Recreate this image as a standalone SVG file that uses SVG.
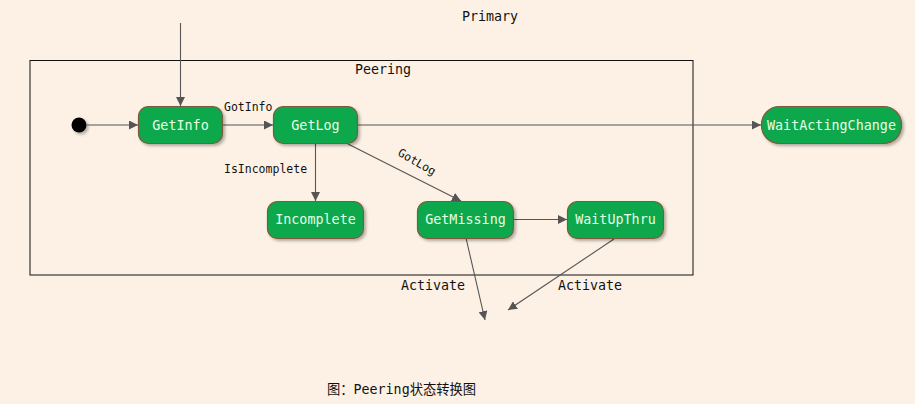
<svg xmlns="http://www.w3.org/2000/svg" width="915" height="404" viewBox="0 0 915 404">
<defs>
<style>
.node rect{fill:#0fa84c;stroke:#7b5a3c;stroke-width:1.2}
.node text{fill:#e6ffe6;font-family:"DejaVu Sans Mono","Liberation Mono",monospace;font-size:13.4px;text-anchor:middle}
.lbl{fill:#111;font-family:"DejaVu Sans Mono","Liberation Mono",monospace;font-size:13.3px}
.sm{fill:#111;font-family:"DejaVu Sans Mono","Liberation Mono",monospace;font-size:11.5px}
.edge{stroke:#555;stroke-width:1.1;fill:none;marker-end:url(#arr)}
</style>
<marker id="arr" viewBox="0 0 10 10" refX="10" refY="5" markerWidth="9" markerHeight="9" markerUnits="userSpaceOnUse" orient="auto">
<path d="M0,0 L10,5 L0,10 z" fill="#555"/>
</marker>
<filter id="sh" x="-20%" y="-20%" width="140%" height="160%">
<feDropShadow dx="2" dy="2" stdDeviation="1.5" flood-color="#000" flood-opacity="0.3"/>
</filter>
</defs>
<rect x="0" y="0" width="915" height="404" fill="#fdf1e5"/>
<text class="lbl" x="490" y="21" text-anchor="middle">Primary</text>
<g id="peering">
<rect x="30" y="60.5" width="663" height="214.5" fill="none" stroke="#111" stroke-width="1"/>
<text class="lbl" x="383" y="74" text-anchor="middle">Peering</text>
</g>
<g id="start">
<circle cx="79" cy="125" r="7.5" fill="#000" filter="url(#sh)"/>
</g>
<g id="connectors">
<path class="edge" d="M180.5,23 V106"/>
<path class="edge" d="M87,125 H138"/>
<path class="edge" d="M223,125 H273"/>
<path class="edge" d="M357,125 H761"/>
<path class="edge" d="M315.5,144 V201"/>
<path class="edge" d="M348,144 L461,201"/>
<path class="edge" d="M513,219.5 H567"/>
<path class="edge" d="M466,238 L485,320"/>
<path class="edge" d="M614,239 L508,310"/>
<text class="sm" x="224" y="111">GotInfo</text>
<text class="sm" x="224" y="173">IsIncomplete</text>
<text class="sm" transform="translate(397,155) rotate(30)">GotLog</text>
<text class="lbl" x="401" y="290">Activate</text>
<text class="lbl" x="558" y="290">Activate</text>
</g>
<g id="GetInfo" class="node">
<rect x="138.5" y="106.5" width="84" height="37" rx="10" filter="url(#sh)"/>
<text x="180.5" y="130">GetInfo</text>
</g>
<g id="GetLog" class="node">
<rect x="273.5" y="106.5" width="84" height="37" rx="10" filter="url(#sh)"/>
<text x="315.5" y="130">GetLog</text>
</g>
<g id="WaitActingChange" class="node">
<rect x="761.5" y="106.5" width="140" height="37" rx="18" filter="url(#sh)"/>
<text x="831.5" y="130">WaitActingChange</text>
</g>
<g id="Incomplete" class="node">
<rect x="267.5" y="201.5" width="96" height="37" rx="10" filter="url(#sh)"/>
<text x="315.5" y="224">Incomplete</text>
</g>
<g id="GetMissing" class="node">
<rect x="417.5" y="201.5" width="96" height="37" rx="10" filter="url(#sh)"/>
<text x="465.5" y="224">GetMissing</text>
</g>
<g id="WaitUpThru" class="node">
<rect x="567.5" y="201.5" width="96" height="37" rx="10" filter="url(#sh)"/>
<text x="615.5" y="224">WaitUpThru</text>
</g>
<text x="327" y="394" style="fill:#111;font-family:'DejaVu Sans Mono','Liberation Mono','Noto Sans CJK SC',monospace;font-size:13.3px">图：Peering状态转换图</text>
</svg>
